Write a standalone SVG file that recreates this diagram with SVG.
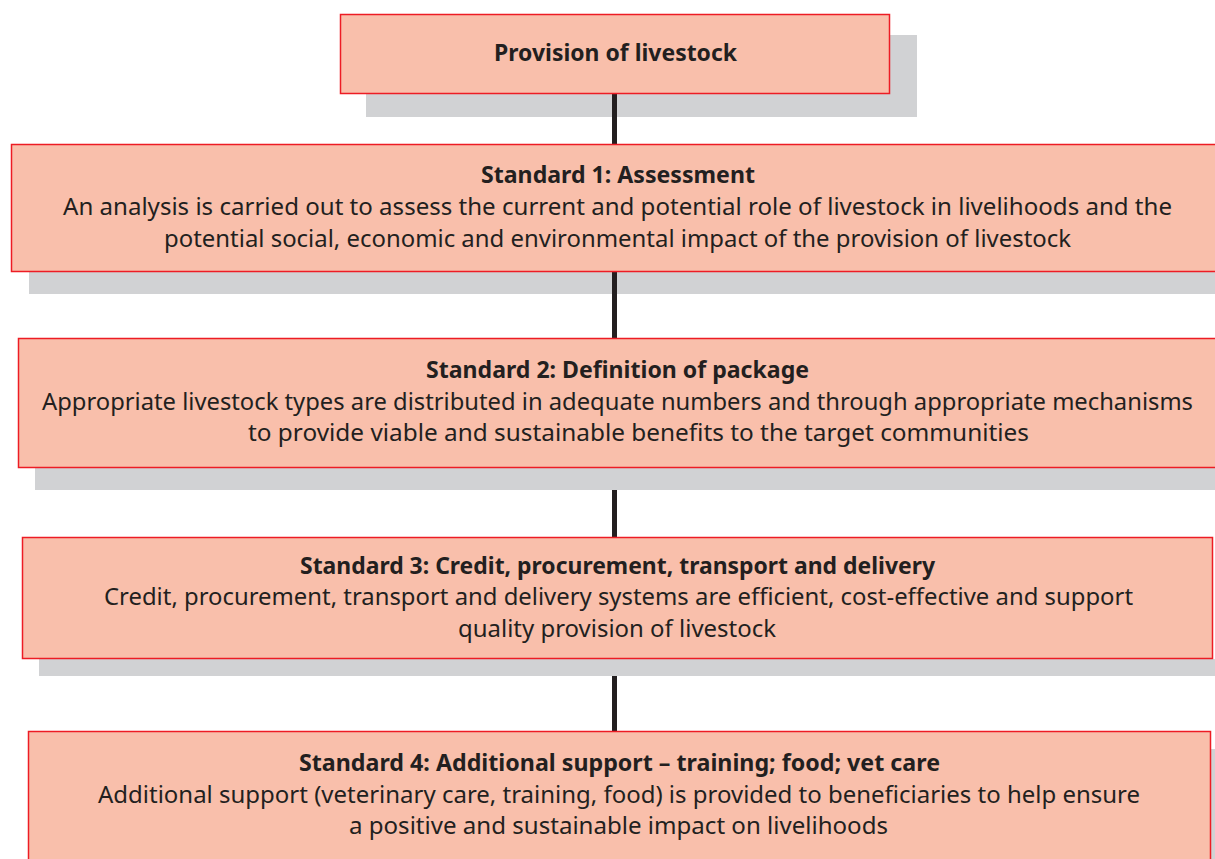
<svg xmlns="http://www.w3.org/2000/svg" width="1215" height="859" viewBox="0 0 1215 859">
<style>
.shadow{fill:#d1d2d4;}
.box{fill:#f9bfab;stroke:#ed1c24;stroke-width:1.5;}
.conn{fill:#231f20;}
text{font-family:"Noto Sans","Open Sans","Liberation Sans",sans-serif;fill:#231f20;font-size:23.8px;}
.t{font-weight:bold;font-size:23px;}
</style>
<rect width="1215" height="859" fill="#ffffff"/>
<g id="shadows">
<rect class="shadow" x="366" y="35" width="551" height="82"/>
<rect class="shadow" x="29" y="272" width="1190" height="22"/>
<rect class="shadow" x="35" y="468" width="1184" height="22"/>
<rect class="shadow" x="39" y="659" width="1180" height="17"/>
<rect class="shadow" x="46" y="749" width="1173" height="120"/>
</g>
<g id="connectors">
<rect class="conn" x="612" y="94" width="5" height="50"/>
<rect class="conn" x="612" y="272" width="5" height="66"/>
<rect class="conn" x="612" y="490" width="5" height="47"/>
<rect class="conn" x="612" y="676" width="5" height="55"/>
</g>
<g id="node-top">
<rect class="box" x="340.5" y="14.5" width="549" height="79"/>
<text class="t" x="494" y="61" textLength="243" lengthAdjust="spacingAndGlyphs">Provision of livestock</text>
</g>
<g id="node-standard1">
<rect class="box" x="11.5" y="144.5" width="1210" height="127"/>
<text class="t" x="481" y="183" textLength="274" lengthAdjust="spacingAndGlyphs">Standard 1: Assessment</text>
<text x="63" y="215" textLength="1109" lengthAdjust="spacingAndGlyphs">An analysis is carried out to assess the current and potential role of livestock in livelihoods and the</text>
<text x="164" y="247" textLength="907" lengthAdjust="spacingAndGlyphs">potential social, economic and environmental impact of the provision of livestock</text>
</g>
<g id="node-standard2">
<rect class="box" x="18.5" y="338.5" width="1210" height="129"/>
<text class="t" x="426" y="378" textLength="383" lengthAdjust="spacingAndGlyphs">Standard 2: Definition of package</text>
<text x="42" y="410" textLength="1151" lengthAdjust="spacingAndGlyphs">Appropriate livestock types are distributed in adequate numbers and through appropriate mechanisms</text>
<text x="248" y="441" textLength="781" lengthAdjust="spacingAndGlyphs">to provide viable and sustainable benefits to the target communities</text>
</g>
<g id="node-standard3">
<rect class="box" x="22.5" y="537.5" width="1190" height="121"/>
<text class="t" x="300" y="574" textLength="635" lengthAdjust="spacingAndGlyphs">Standard 3: Credit, procurement, transport and delivery</text>
<text x="104" y="605" textLength="1029" lengthAdjust="spacingAndGlyphs">Credit, procurement, transport and delivery systems are efficient, cost-effective and support</text>
<text x="458" y="637" textLength="318" lengthAdjust="spacingAndGlyphs">quality provision of livestock</text>
</g>
<g id="node-standard4">
<rect class="box" x="28.5" y="731.5" width="1182" height="140"/>
<text class="t" x="299" y="771" textLength="641" lengthAdjust="spacingAndGlyphs">Standard 4: Additional support – training; food; vet care</text>
<text x="98" y="803" textLength="1042" lengthAdjust="spacingAndGlyphs">Additional support (veterinary care, training, food) is provided to beneficiaries to help ensure</text>
<text x="349" y="834" textLength="539" lengthAdjust="spacingAndGlyphs">a positive and sustainable impact on livelihoods</text>
</g>
</svg>
